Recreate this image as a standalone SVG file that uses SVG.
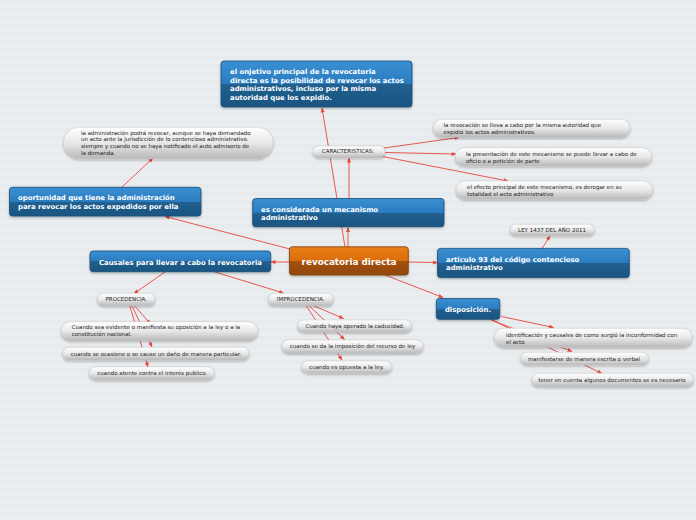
<svg xmlns="http://www.w3.org/2000/svg" width="696" height="520" viewBox="0 0 696 520">
<defs>
<pattern id="bg" width="8" height="8" patternUnits="userSpaceOnUse">
<rect width="8" height="8" fill="#ebeef0"/>
<rect y="0" width="8" height="4" fill="#e7ebed"/>
</pattern>
<linearGradient id="gBlue" x1="0" y1="0" x2="0" y2="1">
<stop offset="0" stop-color="#3990d3"/>
<stop offset="0.5" stop-color="#2a7cbf"/>
<stop offset="0.5" stop-color="#215f8e"/>
<stop offset="1" stop-color="#1c5581"/>
</linearGradient>
<linearGradient id="gOrange" x1="0" y1="0" x2="0" y2="1">
<stop offset="0" stop-color="#ea7f16"/>
<stop offset="0.5" stop-color="#da6d0b"/>
<stop offset="0.5" stop-color="#a3520b"/>
<stop offset="1" stop-color="#92470a"/>
</linearGradient>
<linearGradient id="gGray" x1="0" y1="0" x2="0" y2="1">
<stop offset="0" stop-color="#ffffff"/>
<stop offset="0.5" stop-color="#e8e8e8"/>
<stop offset="1" stop-color="#b8b8b8"/>
</linearGradient>
<filter id="sh" x="-10%" y="-30%" width="120%" height="170%">
<feDropShadow dx="0" dy="1.2" stdDeviation="0.8" flood-color="#000" flood-opacity="0.3"/>
</filter>
<marker id="arr" viewBox="0 0 10 10" refX="9" refY="5" markerWidth="5" markerHeight="5" orient="auto" markerUnits="userSpaceOnUse">
<path d="M0,1 L10,5 L0,9 Z" fill="#e8463c"/>
</marker>
</defs>
<style>
.blue{fill:url(#gBlue);stroke:#1a4d76;stroke-width:0.8;filter:url(#sh)}
.orange{fill:url(#gOrange);stroke:#7d3f0a;stroke-width:0.8;filter:url(#sh)}
.pill{fill:url(#gGray);stroke:#c4c4c4;stroke-width:0.5;filter:url(#sh)}
.bt{font-family:"DejaVu Sans",Verdana,sans-serif;font-weight:bold;font-size:6.9px;fill:#ffffff}
.mt{font-family:"DejaVu Sans",Verdana,sans-serif;font-weight:bold;font-size:8.8px;fill:#ffffff}
.gt{font-family:"DejaVu Sans",Verdana,sans-serif;font-size:5.5px;fill:#222222}
.c{text-anchor:middle}
#connectors path{fill:none;stroke:#e8463c;stroke-width:0.9;marker-end:url(#arr)}
</style>
<rect width="696" height="520" fill="url(#bg)"/>

<g id="connectors">
<path d="M345,247 L322,108"/>
<path d="M348,247 L348,227.5"/>
<path d="M349,199 L349,158"/>
<path d="M384,148 L459,137.5"/>
<path d="M385,152.5 L456,154"/>
<path d="M380,156 L508,181"/>
<path d="M290,249 L165,216.5"/>
<path d="M122,187 L153,158"/>
<path d="M290,262 L271,262"/>
<path d="M408,262 L437.5,262.5"/>
<path d="M542,248.5 L550,236"/>
<path d="M385,275 L443,297.5"/>
<path d="M165,272 L134,293.5"/>
<path d="M215,272 L283.5,293"/>
<path d="M134,305 L150.5,324"/>
<path d="M131.5,305 L152,347"/>
<path d="M129.5,305 L148,367"/>
<path d="M313,305.5 L343.5,318.5"/>
<path d="M309,305.5 L344.5,339.5"/>
<path d="M306,305.5 L342,360"/>
<path d="M501.5,316.5 L553.5,327.5"/>
<path d="M491.5,320 L572,351.5"/>
<path d="M490,319 L602,373.5"/>
</g>

<g id="n-objetivo">
<rect class="blue" x="221" y="61" width="191" height="46" rx="3"/>
<text class="bt" x="230" y="74">el onjetivo principal de la revocatoria</text>
<text class="bt" x="230" y="82.7">directa es la posibilidad de revocar los actos</text>
<text class="bt" x="230" y="91.4">administrativos, incluso por la misma</text>
<text class="bt" x="230" y="100.1">autoridad que los expidio.</text>
</g>

<g id="n-admin">
<rect class="pill" x="63.3" y="127.3" width="210" height="31.4" rx="15.7"/>
<text class="gt" x="81" y="134.5">la administración podrá revocar, aunque se haya demandado</text>
<text class="gt" x="81" y="141.2">un acto ante la jurisdicción de lo contencioso administrativo.</text>
<text class="gt" x="81" y="147.9">siempre y cuando no se haya notificado el auto admisorio de</text>
<text class="gt" x="81" y="154.6">la demanda.</text>
</g>

<g id="n-caracteristicas">
<rect class="pill" x="312.7" y="146" width="72.3" height="11.7" rx="5.85"/>
<text class="gt c" x="348" y="152.8">CARACTERISTICAS:</text>
</g>

<g id="n-car1">
<rect class="pill" x="433.3" y="119.3" width="196.7" height="18" rx="9"/>
<text class="gt" x="443.5" y="127.2">la revocación se lleva a cabo por la misma autoridad que</text>
<text class="gt" x="443.5" y="134.2">expidió los actos administrativos.</text>
</g>

<g id="n-car2">
<rect class="pill" x="455" y="147.7" width="196.7" height="18.3" rx="9.15"/>
<text class="gt" x="466" y="156">la presentación de este mecanismo se puede llevar a cabo de</text>
<text class="gt" x="466" y="163">oficio o a petición de parte</text>
</g>

<g id="n-car3">
<rect class="pill" x="456" y="181" width="196.7" height="18.3" rx="9.15"/>
<text class="gt" x="467" y="189.3">el efecto principal de este mecanismo, es derogar en su</text>
<text class="gt" x="467" y="196.2">totalidad el acto administrativo</text>
</g>

<g id="n-oportunidad">
<rect class="blue" x="9.5" y="187.3" width="191.5" height="28.7" rx="3"/>
<text class="bt" x="18" y="200.3">oportunidad que tiene la administración</text>
<text class="bt" x="18" y="209.3">para revocar los actos expedidos por ella</text>
</g>

<g id="n-mecanismo">
<rect class="blue" x="252.7" y="198.5" width="191.3" height="28.2" rx="3"/>
<text class="bt" x="261" y="212">es considerada un mecanismo</text>
<text class="bt" x="261" y="220.2">administrativo</text>
</g>

<g id="n-ley">
<rect class="pill" x="510" y="224.3" width="84.3" height="11.4" rx="5.7"/>
<text class="gt c" x="552" y="232">LEY 1437 DEL AÑO 2011</text>
</g>

<g id="n-main">
<rect class="orange" x="289.5" y="246.8" width="118.8" height="28.2" rx="3"/>
<text class="mt c" x="349" y="265">revocatoria directa</text>
</g>

<g id="n-causales">
<rect class="blue" x="90" y="251" width="180.7" height="20.7" rx="3"/>
<text class="bt c" x="180.5" y="264.5">Causales para llevar a cabo la revocatoria</text>
</g>

<g id="n-articulo">
<rect class="blue" x="437.5" y="248.4" width="191.8" height="29.2" rx="3"/>
<text class="bt" x="446" y="262">articulo 93 del código contencioso</text>
<text class="bt" x="446" y="270.3">administrativo</text>
</g>

<g id="n-procedencia">
<rect class="pill" x="97.3" y="293.3" width="57.7" height="12.4" rx="6.2"/>
<text class="gt c" x="126.3" y="301.3">PROCEDENCIA.</text>
</g>

<g id="n-improcedencia">
<rect class="pill" x="268.3" y="293.3" width="65" height="12.4" rx="6.2"/>
<text class="gt c" x="300.8" y="301.3">IMPROCEDENCIA.</text>
</g>

<g id="n-disposicion">
<rect class="blue" x="436.3" y="298.5" width="63.5" height="20.8" rx="3"/>
<text class="bt c" x="468" y="311.6">disposición.</text>
</g>

<g id="n-proc1">
<rect class="pill" x="61" y="321.7" width="196.7" height="19" rx="9.5"/>
<text class="gt" x="71.7" y="328.8">Cuando sea evidente o manifiesta su oposición a la ley o a la</text>
<text class="gt" x="71.7" y="336">constitución nacional.</text>
</g>

<g id="n-proc2">
<rect class="pill" x="62.7" y="347.3" width="186.3" height="12.7" rx="6.35"/>
<text class="gt" x="70.7" y="355.5">cuando se ocasione o se cause un daño de manera particular.</text>
</g>

<g id="n-proc3">
<rect class="pill" x="89.3" y="366.7" width="125" height="13.3" rx="6.65"/>
<text class="gt" x="97.3" y="375.4">cuando atente contra el interés publico.</text>
</g>

<g id="n-improc1">
<rect class="pill" x="297.7" y="320" width="114" height="12.3" rx="6.15"/>
<text class="gt c" x="355" y="328.3">Cuando haya operado la caducidad.</text>
</g>

<g id="n-improc2">
<rect class="pill" x="281.7" y="340" width="141.6" height="13.3" rx="6.65"/>
<text class="gt c" x="352.5" y="348.3">cuando se da la imposición del recurso de ley</text>
</g>

<g id="n-improc3">
<rect class="pill" x="301.7" y="361" width="90" height="12.3" rx="6.15"/>
<text class="gt c" x="346.5" y="369">cuando es opuesta a la ley.</text>
</g>

<g id="n-disp1">
<rect class="pill" x="494.3" y="328.3" width="198" height="19" rx="9.5"/>
<text class="gt" x="506" y="337.2">identificación y causales de como surgió la inconformidad con</text>
<text class="gt" x="506" y="344">el acto</text>
</g>

<g id="n-disp2">
<rect class="pill" x="520.7" y="352.3" width="127.6" height="12.7" rx="6.35"/>
<text class="gt c" x="584" y="360.8">manifestarse de manera escrita o verbal</text>
</g>

<g id="n-disp3">
<rect class="pill" x="531.7" y="373.3" width="161.6" height="13.4" rx="6.7"/>
<text class="gt c" x="612" y="382">tener en cuenta algunos documentos se es necesario</text>
</g>
</svg>
